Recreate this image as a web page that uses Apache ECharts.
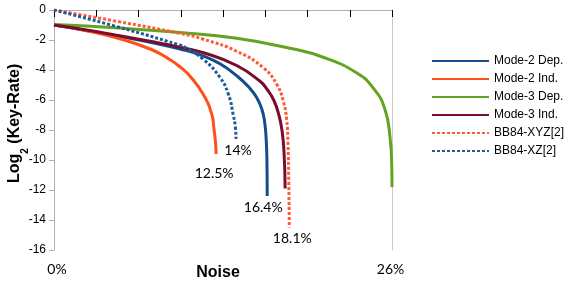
<!DOCTYPE html>
<html>
<head>
<meta charset="utf-8">
<script src="https://cdn.jsdelivr.net/npm/echarts@6/dist/echarts.min.js"></script>
<style>html,body{margin:0;padding:0;background:#fff}#c{width:573px;height:290px}</style>
</head>
<body>
<div id="c"></div>
<script>
const seriesNames = ['Mode-2 Dep.', 'Mode-2 Ind.', 'Mode-3 Dep.', 'Mode-3 Ind.', 'BB84-XYZ[2]', 'BB84-XZ[2]'];

const mode2DepNoise = [0, 2.5, 5, 7.5, 9.7, 11.5, 12.8, 14.05, 15.0, 15.6, 16.0, 16.2, 16.32, 16.38, 16.4];
const mode2DepRate  = [-1, -1.36, -1.75, -2.17, -2.6, -3.07, -3.6, -4.38, -5.15, -5.85, -6.65, -7.45, -8.6, -10.1, -12.4];

const mode2IndNoise = [0, 2.25, 4.8, 7.4, 8.9, 9.7, 10.5, 11.5, 12.15, 12.3, 12.42, 12.47];
const mode2IndRate  = [-1, -1.33, -1.85, -2.6, -3.3, -3.8, -4.45, -5.65, -7.0, -7.9, -8.8, -9.6];

const mode3DepNoise = [0, 5, 9.7, 14.05, 18.15, 20.7, 23.3, 24.6, 25.45, 25.85, 25.98, 26];
const mode3DepRate  = [-0.97, -1.2, -1.5, -1.89, -2.55, -3.15, -4.2, -5.25, -6.6, -8.5, -10.4, -11.8];

const mode3IndNoise = [0, 2.5, 4.8, 7.5, 9.7, 11.5, 14.05, 15.85, 16.4, 16.9, 17.3, 17.55, 17.7, 17.78];
const mode3IndRate  = [-1, -1.33, -1.68, -2.1, -2.48, -2.85, -3.7, -4.75, -5.3, -6.0, -7.0, -8.1, -9.6, -11.9];

const bb84XyzNoise = [0, 4.8, 9.7, 11.5, 14.05, 16.1, 17.13, 17.64, 17.9, 18.0, 18.06, 18.1];
const bb84XyzRate  = [0, -0.75, -1.56, -1.95, -2.75, -3.85, -4.95, -6.1, -7.33, -9.0, -11.5, -14.5];

const bb84XzNoise = [0, 4.8, 9.7, 10.2, 11.5, 12.77, 13.41, 13.79, 13.95, 14];
const bb84XzRate  = [0, -1.1, -2.35, -2.55, -3.3, -4.5, -5.6, -7.0, -7.8, -8.6];

const endLabels = ['16.4%', '12.5%', null, null, '18.1%', '14%'];
const xTickLabels = ['0%', '26%'];
const xTitle = 'Noise';
const yTitle = ['Log', '2', ' (Key-Rate)'];

const noiseArrays = [mode2DepNoise, mode2IndNoise, mode3DepNoise, mode3IndNoise, bb84XyzNoise, bb84XzNoise];
const rateArrays = [mode2DepRate, mode2IndRate, mode3DepRate, mode3IndRate, bb84XyzRate, bb84XzRate];

const colors = ['#124d8c', '#ff4f1a', '#62a422', '#7a0c2c', '#ff5a36', '#1f5a99'];
const dashed = [false, false, false, false, true, true];
const labelOffsets = [[-4, 11], [-2, 19], null, null, [3, 11], [2, 11]];

const series = seriesNames.map((name, i) => {
  const s = {
    name: name,
    type: 'line',
    data: noiseArrays[i].map((x, j) => [x, rateArrays[i][j]]),
    showSymbol: false,
    symbol: 'none',
    smooth: true,
    z: dashed[i] ? 3 : 2,
    lineStyle: { color: colors[i], width: 3, type: dashed[i] ? [3, 2] : 'solid', cap: 'butt' },
    itemStyle: { color: colors[i] },
    emphasis: { disabled: true }
  };
  if (endLabels[i]) {
    s.endLabel = {
      show: true,
      formatter: endLabels[i],
      distance: 0,
      align: 'center',
      verticalAlign: 'middle',
      offset: labelOffsets[i],
      fontFamily: 'Lato',
      fontSize: 14,
      color: '#000'
    };
  }
  return s;
});

const titleFont = { fontFamily: 'Liberation Sans', fontWeight: 'bold', fill: '#000', align: 'center', verticalAlign: 'middle' };

const chart = echarts.init(document.getElementById('c'), null, { renderer: 'canvas' });
chart.setOption({
  animation: false,
  grid: { left: 54, right: 181, top: 10, bottom: 40, containLabel: false, outerBoundsMode: 'none' },
  legend: {
    orient: 'vertical',
    left: 431,
    top: 55,
    padding: 0,
    itemWidth: 57,
    itemHeight: 14,
    itemGap: 6,
    lineStyle: { width: 2 },
    itemStyle: { opacity: 0 },
    textStyle: { fontFamily: 'Liberation Sans', fontSize: 12, color: '#000' },
    data: seriesNames
  },
  graphic: [
    { type: 'text', x: 15, y: 168.3, rotation: Math.PI / 2,
      style: Object.assign({ text: yTitle[0], fontSize: 16 }, titleFont) },
    { type: 'text', x: 25.5, y: 150.9, rotation: Math.PI / 2,
      style: Object.assign({ text: yTitle[1], fontSize: 10 }, titleFont) },
    { type: 'text', x: 15, y: 105.9, rotation: Math.PI / 2,
      style: Object.assign({ text: yTitle[2], fontSize: 16 }, titleFont) }
  ],
  xAxis: {
    type: 'value',
    min: 0,
    max: 26,
    interval: 3.25,
    name: xTitle,
    nameLocation: 'middle',
    nameGap: 15,
    nameMoveOverlap: false,
    nameTextStyle: { fontFamily: 'Liberation Sans', fontWeight: 'bold', fontSize: 16, color: '#000', padding: [0, 10, 0, 0] },
    axisLine: { lineStyle: { color: '#b0b0b0', width: 1 } },
    axisTick: { show: true, length: 7, lineStyle: { color: '#000' } },
    splitLine: { show: false },
    axisLabel: {
      fontFamily: 'Lato', fontSize: 14, color: '#000', margin: 12,
      formatter: v => v === 0 ? '{l|' + xTickLabels[0] + '}' : (v === 26 ? '{r|' + xTickLabels[1] + '}' : ''),
      rich: {
        l: { fontFamily: 'Lato', fontSize: 14, color: '#000', padding: [0, 0, 0, 6] },
        r: { fontFamily: 'Lato', fontSize: 14, color: '#000', padding: [0, 3, 0, 0] }
      }
    }
  },
  yAxis: [{
    type: 'value',
    min: -16,
    max: 0,
    interval: 2,
    axisLine: { show: true, lineStyle: { color: '#b0b0b0', width: 1 } },
    axisTick: { show: true, length: 5, lineStyle: { color: '#b0b0b0' } },
    splitLine: { show: false },
    axisLabel: { fontFamily: 'Liberation Sans', fontSize: 12, color: '#000', margin: 8 }
  }, {
    type: 'value',
    position: 'right',
    min: -16,
    max: 0,
    interval: 2,
    axisLine: { show: true, lineStyle: { color: '#c8c8c8', width: 1 } },
    axisTick: { show: false },
    axisLabel: { show: false },
    splitLine: { show: false }
  }],
  series: series
});
</script>
</body>
</html>
